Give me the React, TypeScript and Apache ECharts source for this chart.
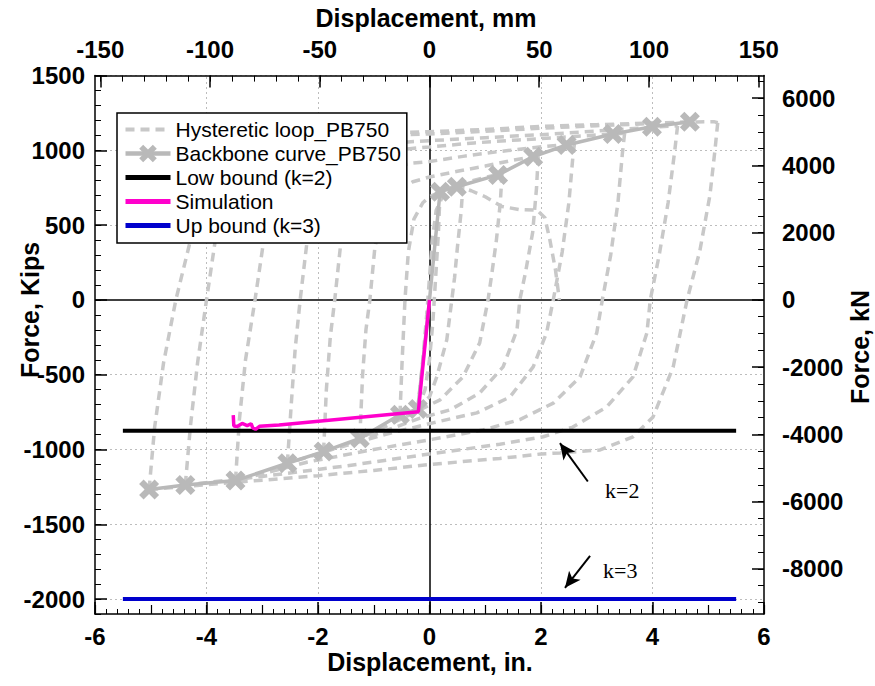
import React, { useEffect, useRef } from "react";
import * as echarts from "echarts";

// ---------- axis ticks ----------
const IN_TICKS = [-6, -4, -2, 0, 2, 4, 6];
const MM_TICKS = [-150, -100, -50, 0, 50, 100, 150];
const MM_MINOR = [-150, -140, -130, -120, -110, -100, -90, -80, -70, -60, -50, -40, -30, -20, -10, 0, 10, 20, 30, 40, 50, 60, 70, 80, 90, 100, 110, 120, 130, 140, 150];
const KIPS_TICKS = [-2000, -1500, -1000, -500, 0, 500, 1000, 1500];
const KN_TICKS = [-8000, -6000, -4000, -2000, 0, 2000, 4000, 6000];
const KN_MINOR = [-9000, -8500, -8000, -7500, -7000, -6500, -6000, -5500, -5000, -4500, -4000, -3500, -3000, -2500, -2000, -1500, -1000, -500, 0, 500, 1000, 1500, 2000, 2500, 3000, 3500, 4000, 4500, 5000, 5500, 6000, 6500];
const GRID_X = [-4, -2, 2, 4];
const GRID_Y = [-2000, -1500, -1000, -500, 500, 1000, 1500];

const IN_MIN = -6, IN_MAX = 6;
const KIPS_MIN = -2100, KIPS_MAX = 1500;
const MM_PER_IN = 25.4;
const KN_PER_KIP = 4.44822;

// ---------- hysteretic loop branches [in, kips] ----------
const loopDown1 = [[0.19, 722], [0.16, 450], [0.11, 150], [0.06, -150], [0.0, -400], [-0.08, -600], [-0.21, -730]];
const loopUp1 = [[-0.21, -730], [-0.12, -400], [-0.05, -100], [0.0, 150], [0.05, 400], [0.12, 600], [0.25, 705], [0.45, 760], [0.6, 775]];
const loopDown2 = [[0.6, 775], [0.57, 600], [0.5, 350], [0.45, 150], [0.4, 0], [0.31, -267], [0.13, -515], [0.0, -648], [-0.2, -715], [-0.53, -768]];
const loopUp2 = [[-0.53, -768], [-0.49, -400], [-0.44, 0], [-0.38, 320], [-0.28, 540], [-0.12, 650], [0.0, 690], [0.3, 740], [0.7, 790], [1.0, 820], [1.3, 845]];
const loopDown3 = [[1.3, 845], [1.27, 650], [1.2, 400], [1.12, 180], [1.05, 0], [0.9, -287], [0.6, -515], [0.19, -668], [-0.2, -740], [-0.7, -830], [-1.25, -925]];
const loopUp3 = [[-1.25, -925], [-1.2, -500], [-1.14, -200], [-1.07, 0], [-0.98, 350], [-0.85, 580], [-0.6, 720], [-0.3, 790], [0.0, 822], [0.5, 860], [1.0, 895], [1.5, 935], [1.95, 962]];
const loopDown4 = [[1.95, 962], [1.92, 750], [1.85, 450], [1.72, 180], [1.62, 0], [1.57, -200], [1.32, -448], [0.9, -622], [0.37, -735], [-0.17, -790], [-0.9, -890], [-1.9, -1014]];
const loopUp4 = [[-1.9, -1014], [-1.85, -600], [-1.78, -250], [-1.7, 0], [-1.6, 350], [-1.45, 620], [-1.2, 790], [-0.8, 880], [-0.3, 915], [0.0, 925], [0.6, 960], [1.2, 990], [1.9, 1020], [2.6, 1045]];
const loopDown5 = [[2.6, 1045], [2.57, 950], [2.5, 650], [2.38, 320], [2.22, 0], [2.1, -220], [1.86, -448], [1.44, -650], [0.85, -755], [0.06, -822], [-0.8, -900], [-1.7, -995], [-2.55, -1092]];
const loopUp5 = [[-2.55, -1092], [-2.48, -700], [-2.41, -330], [-2.32, 0], [-2.2, 380], [-2.02, 650], [-1.75, 830], [-1.3, 940], [-0.7, 1000], [0.0, 1023], [0.8, 1050], [1.6, 1070], [2.5, 1090], [3.5, 1115]];
const loopDown6 = [[3.5, 1115], [3.46, 980], [3.38, 650], [3.25, 300], [3.1, 0], [3.0, -220], [2.7, -515], [2.22, -690], [1.62, -800], [0.96, -870], [0.0, -935], [-1.0, -1000], [-2.2, -1085], [-3.48, -1208]];
const loopUp6 = [[-3.48, -1208], [-3.41, -800], [-3.3, -400], [-3.13, 0], [-2.98, 380], [-2.78, 650], [-2.45, 850], [-1.9, 980], [-1.1, 1040], [0.0, 1065], [1.0, 1085], [2.0, 1105], [3.0, 1130], [3.9, 1152], [4.45, 1165]];
const loopDown7 = [[4.45, 1165], [4.4, 1000], [4.28, 650], [4.12, 300], [3.96, 0], [3.9, -220], [3.65, -515], [3.18, -715], [2.57, -850], [2.04, -915], [1.26, -965], [0.0, -1030], [-1.5, -1110], [-3.0, -1180], [-4.38, -1237]];
const loopUp7 = [[-4.38, -1237], [-4.29, -850], [-4.16, -420], [-4.0, 0], [-3.85, 380], [-3.62, 680], [-3.25, 880], [-2.6, 1010], [-1.6, 1080], [-0.5, 1105], [0.0, 1110], [1.0, 1128], [2.0, 1148], [3.0, 1165], [4.0, 1180], [4.8, 1190], [5.1, 1192], [5.17, 1185]];
const loopDown8 = [[5.17, 1185], [5.12, 1000], [5.03, 700], [4.85, 330], [4.62, 0], [4.37, -450], [4.01, -782], [3.65, -915], [3.06, -1003], [2.34, -1023], [2.0, -1030], [1.26, -1060], [0.0, -1100], [-1.0, -1140], [-2.0, -1175], [-3.0, -1205], [-4.0, -1235], [-5.03, -1268]];
const loopUp8 = [[-5.03, -1268], [-4.93, -850], [-4.77, -420], [-4.55, 0], [-4.3, 380], [-4.0, 680], [-3.55, 900], [-2.9, 1050], [-2.0, 1100], [-1.0, 1115], [0.0, 1125], [1.0, 1140], [2.0, 1160], [3.0, 1172], [4.0, 1183], [4.7, 1190]];
const loopDip = [[0.45, 765], [0.75, 730], [1.0, 690], [1.3, 625], [1.6, 605], [1.93, 600], [2.07, 550], [2.16, 400], [2.26, 200], [2.33, 0]];

const loopBranches = [loopDown1, loopUp1, loopDown2, loopUp2, loopDown3, loopUp3, loopDown4, loopUp4, loopDown5, loopUp5, loopDown6, loopUp6, loopDown7, loopUp7, loopDown8, loopUp8, loopDip];

// ---------- backbone [in, kips] ----------
const backboneX = [-5.03, -4.38, -3.48, -2.55, -1.9, -1.25, -0.53, -0.21, 0, 0.19, 0.49, 1.23, 1.86, 2.46, 3.29, 3.99, 4.67];
const backboneY = [-1268, -1237, -1208, -1092, -1014, -925, -768, -730, 0, 724, 757, 836, 958, 1036, 1110, 1158, 1192];

// ---------- simulation [in, kips] ----------
const simX = [0, -0.2, -2.7, -3.05, -3.12, -3.17, -3.2, -3.27, -3.36, -3.45, -3.51, -3.52];
const simY = [0, -747, -836, -845, -865, -856, -828, -840, -826, -846, -843, -770];

// ---------- bounds ----------
const boundRange = [-5.5, 5.5];
const lowBound = -875;
const upBound = -2000;

// ---------- annotations ----------
const arrowK2 = [[2.84, -1214], [2.34, -958]];
const arrowK3 = [[2.88, -1711], [2.43, -1925]];

const FONT = "'Liberation Sans', Arial, sans-serif";
const SERIF = "'Liberation Serif', 'Times New Roman', serif";
const X_SYMBOL = "path://M4.5,0 L10,5.5 L15.5,0 L20,4.5 L14.5,10 L20,15.5 L15.5,20 L10,14.5 L4.5,20 L0,15.5 L5.5,10 L0,4.5 Z";

const LOOP_COLOR = "#c8c8c8";
const BACKBONE_COLOR = "#b9b9b9";

const tickLabel = { color: "#000", fontSize: 24, fontWeight: "bold", fontFamily: FONT, formatter: (v: number) => String(v) };
const blackLine = { color: "#000", width: 1.5 };
const hideSym = { opacity: 0 };

export default function App() {
  const ref = useRef<HTMLDivElement>(null);
  useEffect(() => {
    if (!ref.current) return;
    const chart = echarts.init(ref.current, null, { renderer: "svg" });

    const zip = (xs: number[], ys: number[]) => xs.map((x, i) => [x, ys[i]]);

    const loopSeries = loopBranches.map((b) => ({
      type: "line",
      name: "Hysteretic loop_PB750",
      data: b,
      symbol: "none",
      showSymbol: false,
      itemStyle: { color: LOOP_COLOR },
      lineStyle: { color: LOOP_COLOR, width: 3.5, type: [9, 6] },
      z: 2,
      silent: true,
    }));

    const backboneData = zip(backboneX, backboneY).map((p) =>
      p[0] === 0 && p[1] === 0 ? { value: p, symbol: "none" } : { value: p }
    );

    const option: any = {
      animation: false,
      backgroundColor: "#fff",
      grid: { left: 95, right: 111, top: 75.6, bottom: 72, containLabel: false },
      legend: {
        data: [
          { name: "Hysteretic loop_PB750", itemStyle: hideSym, lineStyle: { width: 4, type: [9, 6] } },
          { name: "Backbone curve_PB750", lineStyle: { width: 4.5 } },
          { name: "Low bound (k=2)", itemStyle: hideSym, lineStyle: { width: 5 } },
          { name: "Simulation", itemStyle: hideSym, lineStyle: { width: 5 } },
          { name: "Up bound (k=3)", itemStyle: hideSym, lineStyle: { width: 5 } },
        ],
        orient: "vertical",
        left: 117,
        top: 113,
        padding: [6, 6, 7, 6],
        itemGap: 3,
        itemWidth: 45,
        itemHeight: 22,
        backgroundColor: "#fff",
        borderColor: "#000",
        borderWidth: 1.5,
        borderRadius: 0,
        selectedMode: false,
        textStyle: { color: "#000", fontSize: 21, fontFamily: FONT, lineHeight: 21 },
        z: 20,
      },
      xAxis: [
        {
          type: "value", position: "bottom", min: IN_MIN, max: IN_MAX, interval: 2,
          axisLine: { show: true, onZero: false, lineStyle: blackLine },
          axisTick: { show: true, inside: true, length: 12, lineStyle: blackLine },
          minorTick: { show: true, splitNumber: 10, length: 5, lineStyle: { color: "#000", width: 1 } },
          axisLabel: { ...tickLabel, margin: 10, customValues: IN_TICKS },
          splitLine: { show: false },
        },
        {
          type: "value", position: "top", min: IN_MIN * MM_PER_IN, max: IN_MAX * MM_PER_IN,
          axisLine: { show: true, onZero: false, lineStyle: blackLine },
          axisTick: { show: true, inside: true, length: 12, lineStyle: blackLine, customValues: MM_TICKS },
          axisLabel: { ...tickLabel, margin: 14, customValues: MM_TICKS },
          splitLine: { show: false },
        },
        {
          type: "value", position: "top", min: IN_MIN * MM_PER_IN, max: IN_MAX * MM_PER_IN,
          axisLine: { show: false, onZero: false },
          axisTick: { show: true, inside: true, length: 6, lineStyle: { color: "#000", width: 1 }, customValues: MM_MINOR },
          axisLabel: { show: false },
          splitLine: { show: false },
        },
        {
          type: "value", position: "bottom", min: IN_MIN, max: IN_MAX, interval: 1,
          axisLine: { show: false, onZero: false },
          axisTick: { show: true, inside: true, length: 9, lineStyle: { color: "#000", width: 1.2 } },
          axisLabel: { show: false },
          splitLine: { show: false },
        },
      ],
      yAxis: [
        {
          type: "value", position: "left", min: KIPS_MIN, max: KIPS_MAX,
          axisLine: { show: true, onZero: false, lineStyle: blackLine },
          axisTick: { show: true, inside: true, length: 12, lineStyle: blackLine, customValues: KIPS_TICKS },
          axisLabel: { ...tickLabel, margin: 10, customValues: KIPS_TICKS },
          splitLine: { show: false },
        },
        {
          type: "value", position: "right", min: KIPS_MIN * KN_PER_KIP, max: KIPS_MAX * KN_PER_KIP,
          axisLine: { show: true, onZero: false, lineStyle: blackLine },
          axisTick: { show: true, inside: true, length: 12, lineStyle: blackLine, customValues: KN_TICKS },
          axisLabel: { ...tickLabel, margin: 18, customValues: KN_TICKS },
          splitLine: { show: false },
        },
        {
          type: "value", position: "left", min: KIPS_MIN, max: KIPS_MAX, interval: 100,
          axisLine: { show: false, onZero: false },
          axisTick: { show: true, inside: true, length: 6, lineStyle: { color: "#000", width: 1 } },
          axisLabel: { show: false },
          splitLine: { show: false },
        },
        {
          type: "value", position: "right", min: KIPS_MIN * KN_PER_KIP, max: KIPS_MAX * KN_PER_KIP,
          axisLine: { show: false, onZero: false },
          axisTick: { show: true, inside: true, length: 6, lineStyle: { color: "#000", width: 1 }, customValues: KN_MINOR },
          axisLabel: { show: false },
          splitLine: { show: false },
        },
      ],
      graphic: [
        { type: "text", x: 426, y: 18, style: { text: "Displacement, mm", font: `bold 25px ${FONT}`, fill: "#000", textAlign: "center", textVerticalAlign: "middle" } },
        { type: "text", x: 430, y: 662, style: { text: "Displacement, in.", font: `bold 25px ${FONT}`, fill: "#000", textAlign: "center", textVerticalAlign: "middle" } },
        { type: "text", x: 30, y: 310, rotation: Math.PI / 2, style: { text: "Force, Kips", font: `bold 25px ${FONT}`, fill: "#000", textAlign: "center", textVerticalAlign: "middle" } },
        { type: "text", x: 860, y: 347, rotation: Math.PI / 2, style: { text: "Force, kN", font: `bold 25px ${FONT}`, fill: "#000", textAlign: "center", textVerticalAlign: "middle" } },
        { type: "text", x: 605, y: 490, style: { text: "k=2", font: `22px ${SERIF}`, fill: "#000", textAlign: "left", textVerticalAlign: "middle" } },
        { type: "text", x: 603, y: 570, style: { text: "k=3", font: `22px ${SERIF}`, fill: "#000", textAlign: "left", textVerticalAlign: "middle" } },
      ],
      series: [
        {
          type: "line", name: "gridlines", data: [], symbol: "none", silent: true, z: 0,
          markLine: {
            silent: true, z: 0, symbol: ["none", "none"], label: { show: false }, animation: false,
            lineStyle: { color: "#bdbdbd", width: 1, type: [2, 3] },
            data: [...GRID_Y.map((v) => ({ yAxis: v })), ...GRID_X.map((v) => ({ xAxis: v }))],
          },
        },
        {
          type: "line", name: "zerolines", data: [], symbol: "none", silent: true, z: 1,
          markLine: {
            silent: true, z: 1, symbol: ["none", "none"], label: { show: false }, animation: false,
            lineStyle: { color: "#000", width: 1.5, type: "solid" },
            data: [{ yAxis: 0 }, { xAxis: 0 }],
          },
        },
        ...loopSeries,
        {
          type: "line", name: "Backbone curve_PB750", data: backboneData,
          symbol: X_SYMBOL, symbolSize: 20, showSymbol: true,
          itemStyle: { color: BACKBONE_COLOR }, lineStyle: { color: BACKBONE_COLOR, width: 3.5 }, z: 3,
        },
        {
          type: "line", name: "Low bound (k=2)", data: boundRange.map((x) => [x, lowBound]),
          symbol: "none", itemStyle: { color: "#000" }, lineStyle: { color: "#000", width: 4 }, z: 4,
        },
        {
          type: "line", name: "Simulation", data: zip(simX, simY),
          symbol: "none", itemStyle: { color: "#ff00cc" }, lineStyle: { color: "#ff00cc", width: 3.5 }, z: 6,
        },
        {
          type: "line", name: "Up bound (k=3)", data: boundRange.map((x) => [x, upBound]),
          symbol: "none", itemStyle: { color: "#0000cc" }, lineStyle: { color: "#0000cc", width: 4 }, z: 4,
        },
        {
          type: "line", name: "arrows", data: [], symbol: "none", silent: true, z: 7,
          markLine: {
            silent: true, z: 7, symbol: ["none", "arrow"], symbolSize: [11, 16], label: { show: false }, animation: false,
            lineStyle: { color: "#000", width: 2, type: "solid" },
            itemStyle: { color: "#000" },
            data: [
              [{ coord: arrowK2[0] }, { coord: arrowK2[1] }],
              [{ coord: arrowK3[0] }, { coord: arrowK3[1] }],
            ],
          },
        },
      ],
    };
    chart.setOption(option);
    return () => chart.dispose();
  }, []);
  return <div ref={ref} style={{ position: "fixed", left: 0, top: 0, width: 875, height: 686, background: "#fff" }} />;
}
